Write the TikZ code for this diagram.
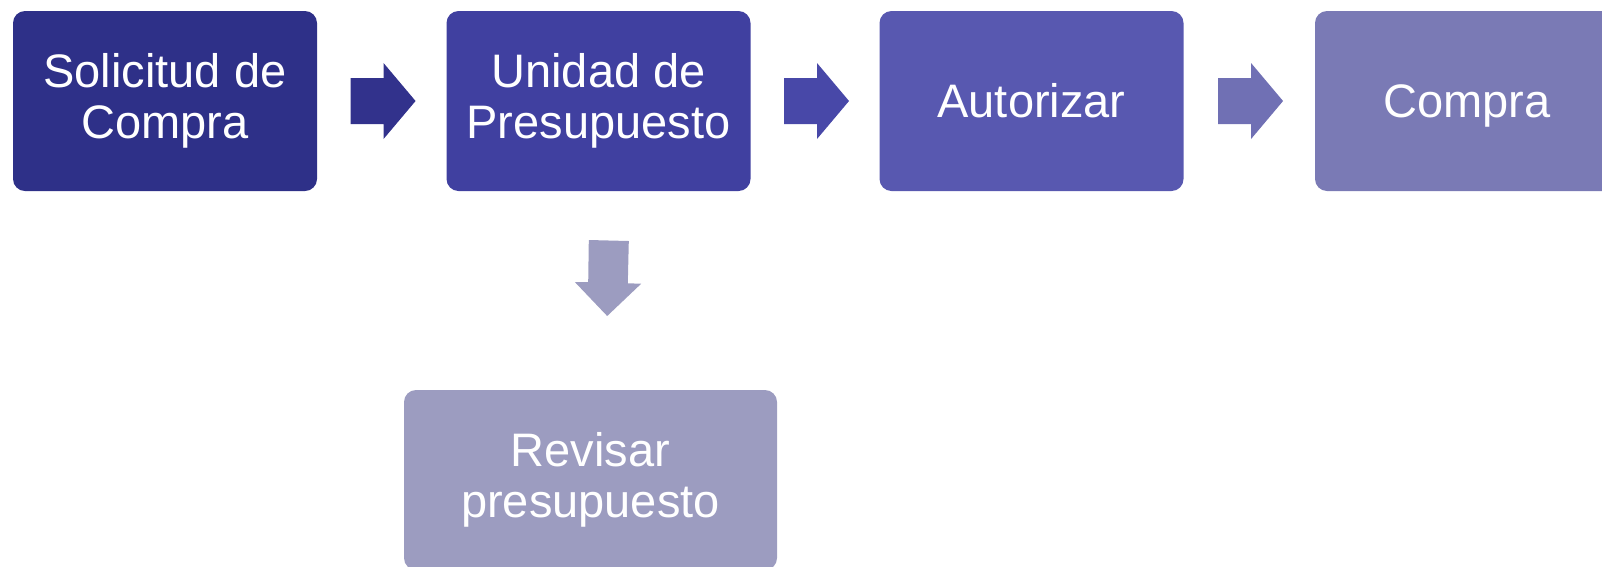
\documentclass[tikz,border=0pt]{standalone}
\usepackage{fontspec}
\setmainfont{Liberation Sans}
\usetikzlibrary{calc}
\definecolor{cA}{RGB}{46,48,136}
\definecolor{cB}{RGB}{64,64,160}
\definecolor{cC}{RGB}{88,88,176}
\definecolor{cD}{RGB}{122,122,181}
\definecolor{cE}{RGB}{156,156,192}
\definecolor{aA}{RGB}{50,50,140}
\definecolor{aB}{RGB}{72,72,168}
\definecolor{aC}{RGB}{112,112,180}
\begin{document}
\begin{tikzpicture}[x=1pt,y=-1pt,
  stepbox/.style={rectangle, rounded corners=12pt, minimum width=304pt,
    minimum height=180pt, inner sep=0pt, text=white, align=center,
    font=\fontsize{47}{51}\selectfont},
  harrow/.pic={\fill (-32.5,-23) -- (0.5,-23) -- (0.5,-38) -- (32.5,0)
    -- (0.5,38) -- (0.5,23) -- (-32.5,23) -- cycle;}]
\useasboundingbox (0,0) rectangle (1602,566);
\node[stepbox, fill=cA] (b1) at (165,101) {Solicitud de\\Compra};
\node[stepbox, fill=cB] (b2) at (598.5,101) {Unidad de\\Presupuesto};
\node[stepbox, fill=cC] (b3) at (1031.5,101) {Autorizar};
\node[stepbox, fill=cD, text depth=0pt] (b4) at (1467,101) {Compra};
\node[stepbox, fill=cE, minimum width=373pt] (b5) at (590.5,480) {Revisar\\presupuesto};
\coordinate (m1) at ($(b1.east)!0.5!(b2.west)+(1.3,0)$);
\coordinate (m2) at ($(b2.east)!0.5!(b3.west)+(1.5,0)$);
\coordinate (m3) at ($(b3.east)!0.5!(b4.west)+(1.3,0)$);
\coordinate (m4) at (607.5,278);
\pic[fill=aA] (a1) at (m1) {harrow};
\pic[fill=aB] (a2) at (m2) {harrow};
\pic[fill=aC] (a3) at (m3) {harrow};
\fill[cE] ([shift={(-18.7,-38)}]m4) -- ([shift={(21.3,-37)}]m4)
  -- ([shift={(20.3,5.3)}]m4) -- ([shift={(33.7,5.7)}]m4)
  -- ([shift={(-0.3,38)}]m4) -- ([shift={(-32.7,4)}]m4)
  -- ([shift={(-19.3,4)}]m4) -- cycle;
\end{tikzpicture}
\end{document}
